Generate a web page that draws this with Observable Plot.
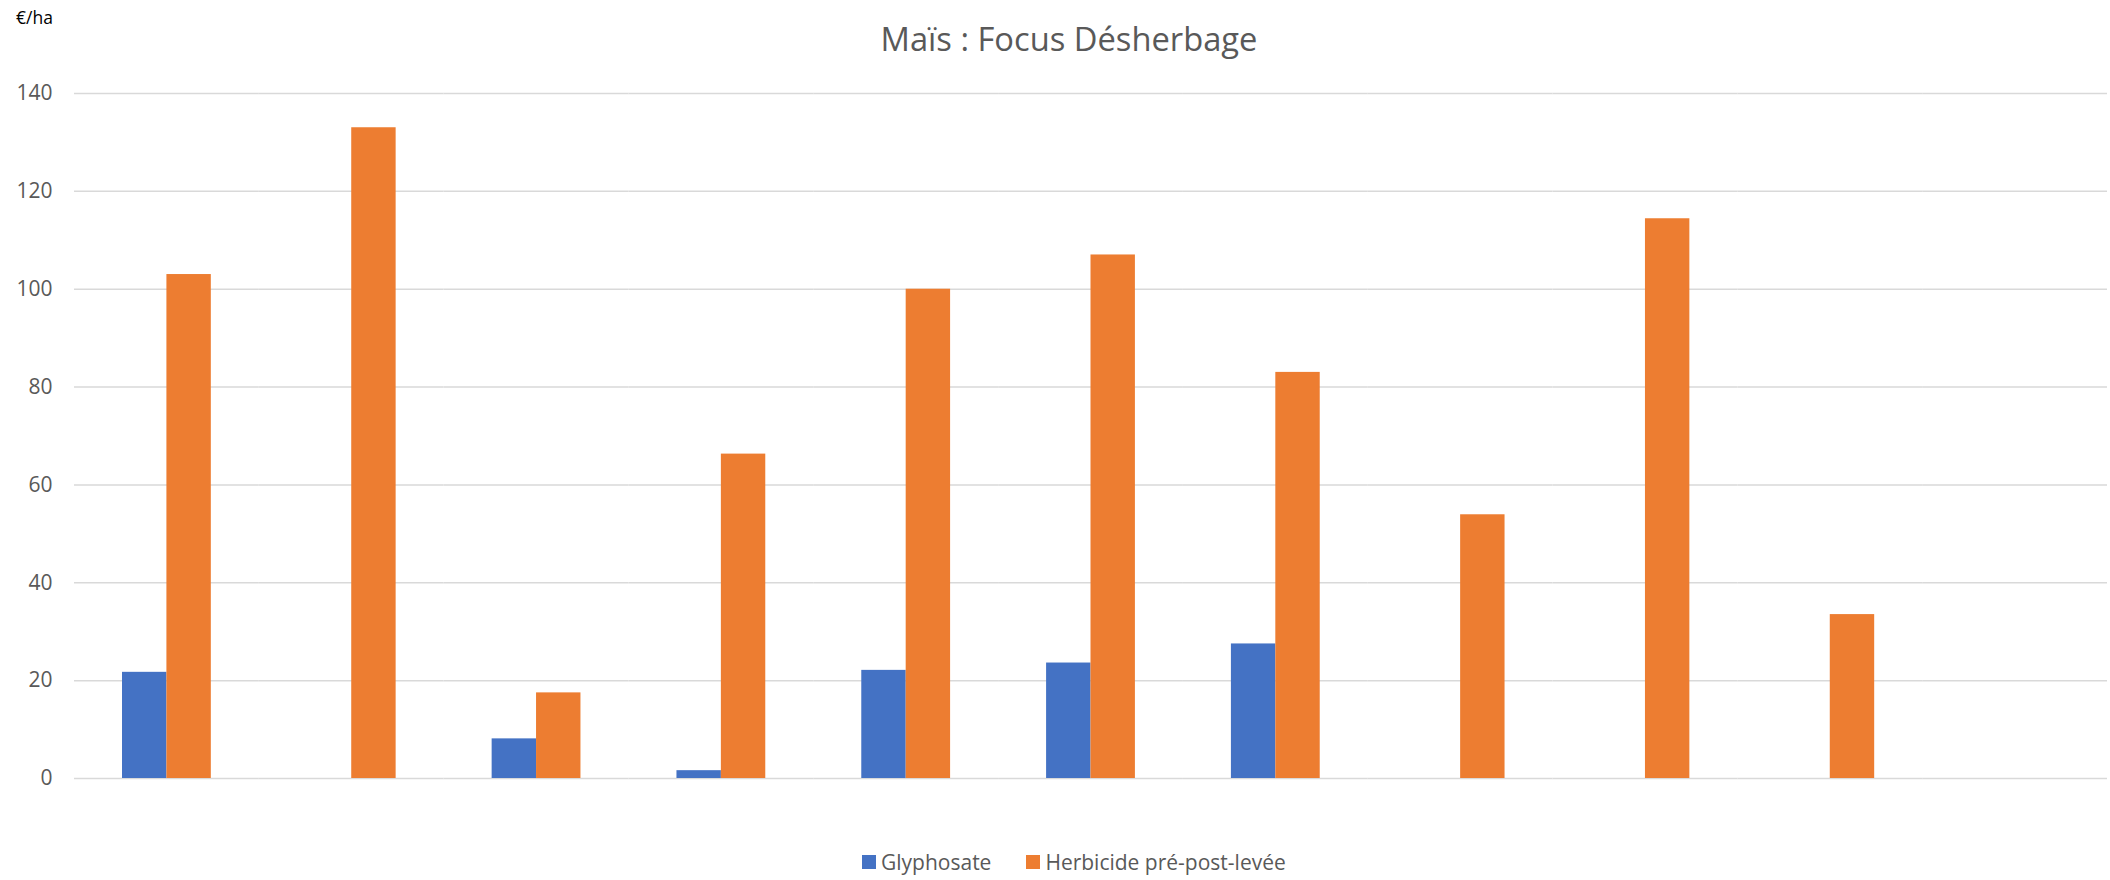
<!DOCTYPE html>
<html>
<head>
<meta charset="utf-8">
<script src="https://cdn.jsdelivr.net/npm/d3@7"></script>
<script src="https://cdn.jsdelivr.net/npm/@observablehq/plot@0.6"></script>
<style>
  html, body { margin: 0; padding: 0; background: #fff; }
  #wrap { position: relative; width: 2110px; height: 880px; font-family: "Open Sans", sans-serif; overflow: hidden; }
  #title { position: absolute; top: 23px; left: 1069px; transform: translateX(-50%); font-size: 32.7px; line-height: 32px; color: #595959; white-space: nowrap; }
  #unit { position: absolute; top: 9px; left: 16px; font-size: 17.5px; line-height: 17px; color: #000; }
  #legend { position: absolute; top: 852px; left: 862px; display: flex; align-items: center; font-size: 21px; line-height: 20.5px; color: #595959; white-space: nowrap; }
  #legend .item { display: flex; align-items: center; margin-right: 35px; }
  #legend .sw { width: 14px; height: 14px; margin-right: 5px; }
  #chart { position: absolute; top: 0; left: 0; }
</style>
</head>
<body>
<div id="wrap">
  <div id="chart"></div>
  <div id="title"></div>
  <div id="unit"></div>
  <div id="legend"></div>
</div>
<script>
const title = "Maïs : Focus Désherbage";
const unitLabel = "€/ha";
const categories = ["1", "2", "3", "4", "5", "6", "7", "8", "9", "10", "11"];
const series = ["Glyphosate", "Herbicide pré-post-levée"];
const colors = ["#4472C4", "#ED7D31"];
const glyphosate = [21.7, null, 8.1, 1.6, 22.1, 23.6, 27.5, null, null, null, null];
const herbicide = [103, 133, 17.5, 66.3, 100, 107, 83, 53.9, 114.4, 33.5, null];
const yTicks = [0, 20, 40, 60, 80, 100, 120, 140];

const data = [];
categories.forEach((c, i) => {
  data.push({cat: c, series: series[0], value: glyphosate[i]});
  data.push({cat: c, series: series[1], value: herbicide[i]});
});

const chart = Plot.plot({
  width: 2110,
  height: 880,
  marginLeft: 74,
  marginRight: 3,
  marginTop: 93,
  marginBottom: 102,
  style: {fontFamily: "Open Sans, sans-serif", background: "#fff"},
  fx: {domain: categories, padding: 0, round: false, axis: null},
  x: {domain: series, paddingInner: 0, paddingOuter: 1.081, round: false, axis: null},
  y: {domain: [0, 140]},
  color: {domain: series, range: colors},
  marks: [
    Plot.gridY(yTicks, {stroke: "#d9d9d9", strokeOpacity: 1, strokeWidth: 1.5}),
    Plot.barY(data, {fx: "cat", x: "series", y: "value", fill: "series"}),
    Plot.axisY(yTicks, {tickSize: 0, tickPadding: 22, fontSize: 21, fill: "#595959", label: null})
  ]
});
document.getElementById("chart").appendChild(chart);

document.getElementById("title").textContent = title;
document.getElementById("unit").textContent = unitLabel;
const legend = document.getElementById("legend");
series.forEach((s, i) => {
  const item = document.createElement("div");
  item.className = "item";
  const sw = document.createElement("div");
  sw.className = "sw";
  sw.style.background = colors[i];
  const t = document.createElement("span");
  t.textContent = s;
  item.appendChild(sw);
  item.appendChild(t);
  legend.appendChild(item);
});
</script>
</body>
</html>
